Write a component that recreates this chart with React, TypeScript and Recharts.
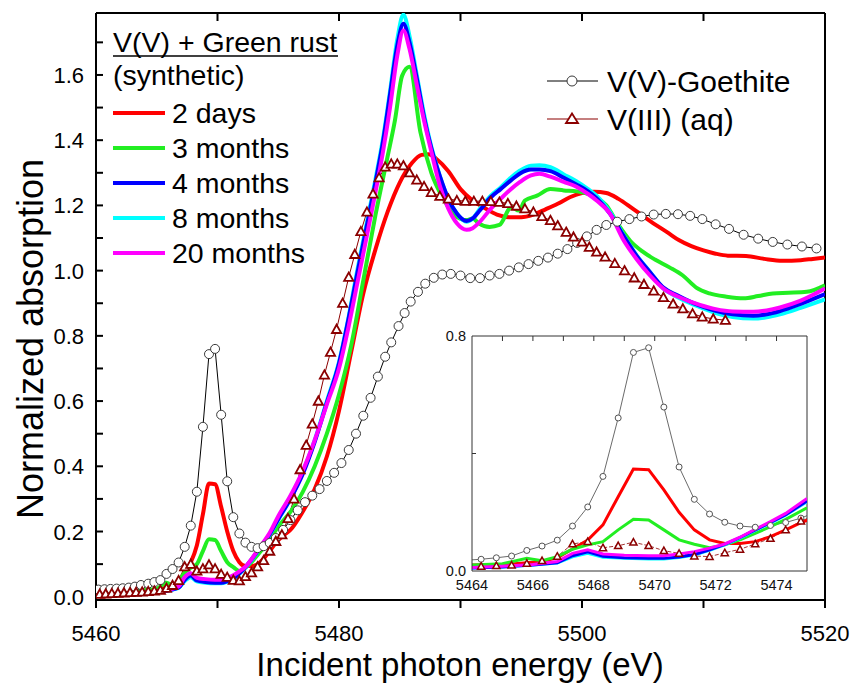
import React from 'react';
import { LineChart, Line, XAxis, YAxis, ReferenceLine } from 'recharts';

const FONT = '"Liberation Sans", Arial, Helvetica, sans-serif';

// ---------- data ----------
const goethiteE = [5460.2, 5460.7, 5461.2, 5461.7, 5462.2, 5462.7, 5463.2, 5463.7, 5464.3, 5464.8, 5465.3, 5465.8, 5466.3, 5466.8, 5467.3, 5467.8, 5468.3, 5468.8, 5469.3, 5469.8, 5470.3, 5470.8, 5471.3, 5471.8, 5472.3, 5472.8, 5473.3, 5473.8, 5474.3, 5474.8, 5475.4, 5476.0, 5476.6, 5477.2, 5477.8, 5478.4, 5479.0, 5479.6, 5480.2, 5480.8, 5481.4, 5482.0, 5482.6, 5483.2, 5483.8, 5484.3, 5484.9, 5485.4, 5485.9, 5486.5, 5487.1, 5487.8, 5488.5, 5489.2, 5490.0, 5490.8, 5491.6, 5492.4, 5493.2, 5494.0, 5494.8, 5495.6, 5496.4, 5497.2, 5498.0, 5498.8, 5499.6, 5500.4, 5501.2, 5502.0, 5502.9, 5503.9, 5504.9, 5505.9, 5506.9, 5507.9, 5508.9, 5509.9, 5511.0, 5512.1, 5513.3, 5514.5, 5515.7, 5516.9, 5518.1, 5519.3];
const goethiteMu = [0.022, 0.023, 0.024, 0.025, 0.026, 0.028, 0.031, 0.036, 0.040, 0.045, 0.051, 0.070, 0.085, 0.105, 0.153, 0.218, 0.322, 0.521, 0.744, 0.760, 0.558, 0.354, 0.244, 0.194, 0.166, 0.153, 0.149, 0.155, 0.165, 0.180, 0.205, 0.235, 0.265, 0.29, 0.31, 0.33, 0.355, 0.38, 0.41, 0.45, 0.50, 0.555, 0.61, 0.675, 0.736, 0.78, 0.83, 0.87, 0.905, 0.935, 0.96, 0.978, 0.988, 0.99, 0.985, 0.977, 0.977, 0.985, 0.99, 1.0, 1.01, 1.02, 1.03, 1.04, 1.052, 1.066, 1.085, 1.105, 1.125, 1.14, 1.15, 1.158, 1.166, 1.172, 1.174, 1.173, 1.168, 1.158, 1.142, 1.128, 1.11, 1.098, 1.088, 1.08, 1.074, 1.068];

const v3E = [5460.3, 5460.8, 5461.3, 5461.8, 5462.3, 5462.8, 5463.3, 5463.8, 5464.3, 5464.8, 5465.3, 5465.8, 5466.3, 5466.8, 5467.3, 5467.8, 5468.3, 5468.8, 5469.3, 5469.8, 5470.3, 5470.8, 5471.3, 5471.8, 5472.3, 5472.8, 5473.3, 5473.8, 5474.3, 5474.8, 5475.3, 5475.8, 5476.3, 5476.8, 5477.3, 5477.8, 5478.3, 5478.8, 5479.3, 5479.8, 5480.3, 5480.8, 5481.3, 5481.8, 5482.3, 5482.8, 5483.3, 5483.8, 5484.3, 5484.8, 5485.3, 5485.8, 5486.4, 5487.0, 5487.6, 5488.3, 5489.0, 5489.7, 5490.4, 5491.1, 5491.8, 5492.5, 5493.2, 5493.9, 5494.6, 5495.3, 5496.0, 5496.7, 5497.4, 5498.0, 5498.7, 5499.3, 5500.0, 5500.6, 5501.2, 5501.9, 5502.7, 5503.5, 5504.3, 5505.1, 5505.9, 5506.7, 5507.5, 5508.3, 5509.1, 5509.9, 5510.8, 5511.8];
const v3Mu = [0.008, 0.009, 0.010, 0.011, 0.012, 0.013, 0.014, 0.015, 0.016, 0.018, 0.020, 0.026, 0.035, 0.050, 0.092, 0.100, 0.079, 0.086, 0.098, 0.086, 0.069, 0.060, 0.051, 0.049, 0.062, 0.074, 0.092, 0.111, 0.140, 0.170, 0.19, 0.24, 0.30, 0.39, 0.465, 0.53, 0.60, 0.68, 0.75, 0.82, 0.90, 0.98, 1.05, 1.12, 1.18, 1.235, 1.285, 1.318, 1.327, 1.327, 1.322, 1.30, 1.278, 1.258, 1.24, 1.228, 1.22, 1.215, 1.213, 1.213, 1.213, 1.212, 1.21, 1.206, 1.198, 1.19, 1.18, 1.166, 1.154, 1.138, 1.118, 1.103, 1.088, 1.072, 1.057, 1.042, 1.022, 1.0, 0.978, 0.958, 0.938, 0.918, 0.898, 0.883, 0.868, 0.858, 0.852, 0.848];

const days2E = [5460, 5461, 5462, 5463, 5464, 5465, 5465.8, 5466.3, 5466.8, 5467.3, 5467.8, 5468.3, 5468.8, 5469.3, 5469.8, 5470.3, 5470.8, 5471.3, 5471.8, 5472.3, 5472.8, 5473.3, 5473.8, 5474.3, 5474.8, 5475.5, 5476, 5477, 5478, 5479, 5480, 5481, 5482, 5483, 5484, 5485, 5486, 5486.8, 5487.4, 5488, 5489, 5490, 5491, 5492, 5493, 5494, 5495, 5496, 5497, 5498, 5499, 5500, 5501, 5502, 5503, 5504, 5505, 5506, 5507, 5508, 5509, 5510, 5511, 5512, 5513.5, 5515, 5516.5, 5518, 5519, 5520];
const days2Mu = [0.010, 0.011, 0.012, 0.014, 0.020, 0.022, 0.028, 0.032, 0.045, 0.075, 0.105, 0.157, 0.253, 0.347, 0.345, 0.276, 0.200, 0.140, 0.106, 0.094, 0.094, 0.100, 0.117, 0.140, 0.165, 0.19, 0.205, 0.26, 0.33, 0.43, 0.57, 0.75, 0.93, 1.065, 1.18, 1.27, 1.33, 1.355, 1.357, 1.343, 1.305, 1.25, 1.215, 1.192, 1.172, 1.164, 1.164, 1.172, 1.188, 1.205, 1.225, 1.238, 1.242, 1.238, 1.22, 1.195, 1.168, 1.142, 1.118, 1.093, 1.075, 1.062, 1.052, 1.046, 1.045, 1.036, 1.03, 1.032, 1.036, 1.04];

const months3E = [5460, 5461, 5462, 5463, 5464, 5465, 5465.8, 5466.3, 5466.8, 5467.3, 5467.8, 5468.3, 5468.8, 5469.3, 5469.8, 5470.3, 5470.8, 5471.3, 5471.8, 5472.3, 5472.8, 5473.3, 5473.8, 5474.3, 5475, 5476, 5477, 5478, 5479, 5480, 5481, 5482, 5483, 5484, 5484.6, 5485.2, 5485.8, 5486.7, 5487.6, 5488.6, 5489.5, 5490.5, 5491.0, 5491.5, 5492.4, 5493.2, 5494.2, 5494.8, 5495.3, 5496.3, 5497.4, 5498.5, 5499.6, 5500.7, 5502.0, 5503.0, 5504.0, 5505.0, 5506.0, 5507.2, 5508.3, 5509.4, 5510.5, 5511.9, 5513.3, 5514.5, 5515.7, 5517, 5518.5, 5520];
const months3Mu = [0.012, 0.013, 0.014, 0.016, 0.020, 0.025, 0.043, 0.035, 0.049, 0.074, 0.089, 0.100, 0.140, 0.176, 0.174, 0.140, 0.106, 0.091, 0.079, 0.089, 0.106, 0.128, 0.151, 0.176, 0.215, 0.26, 0.32, 0.40, 0.50, 0.62, 0.77, 0.97, 1.17, 1.35, 1.46, 1.598, 1.625, 1.425, 1.30, 1.22, 1.17, 1.155, 1.16, 1.145, 1.134, 1.14, 1.195, 1.184, 1.215, 1.23, 1.25, 1.246, 1.243, 1.232, 1.20, 1.14, 1.09, 1.058, 1.034, 1.01, 0.985, 0.948, 0.93, 0.92, 0.915, 0.922, 0.93, 0.932, 0.935, 0.955];

const lateE = [5460, 5461, 5462, 5463, 5464, 5465, 5466, 5466.8, 5467.3, 5467.8, 5468.3, 5469, 5469.8, 5470.3, 5470.8, 5471.3, 5471.8, 5472.3, 5472.8, 5473.3, 5473.8, 5474.3, 5475, 5476, 5477, 5478, 5479, 5480, 5480.8, 5481.5, 5482.2, 5483, 5483.6, 5484.2, 5484.8, 5485.3, 5485.8, 5486.4, 5487, 5487.6, 5488.3, 5489, 5489.7, 5490.5, 5491, 5491.6, 5492.5, 5493.3, 5494, 5494.9, 5495.8, 5496.5, 5497.4, 5498.5, 5499.5, 5500.5, 5501.2, 5502.3, 5503.4, 5504.5, 5505.6, 5506.7, 5507.8, 5508.9, 5509.7, 5511, 5512.4, 5514.1, 5515.2, 5516.3, 5518, 5520];
const months4Mu = [0.003, 0.004, 0.005, 0.007, 0.010, 0.014, 0.020, 0.028, 0.052, 0.065, 0.050, 0.045, 0.043, 0.043, 0.048, 0.056, 0.072, 0.091, 0.114, 0.140, 0.165, 0.192, 0.238, 0.30, 0.375, 0.475, 0.595, 0.715, 0.855, 0.99, 1.12, 1.27, 1.39, 1.54, 1.69, 1.757, 1.70, 1.59, 1.47, 1.375, 1.29, 1.22, 1.175, 1.152, 1.16, 1.185, 1.225, 1.25, 1.272, 1.298, 1.31, 1.31, 1.305, 1.285, 1.265, 1.243, 1.222, 1.175, 1.108, 1.045, 0.995, 0.948, 0.925, 0.905, 0.893, 0.877, 0.866, 0.862, 0.866, 0.876, 0.898, 0.928];
const months8Mu = [0.003, 0.004, 0.005, 0.007, 0.010, 0.014, 0.020, 0.027, 0.048, 0.060, 0.047, 0.043, 0.041, 0.041, 0.046, 0.054, 0.070, 0.089, 0.112, 0.138, 0.163, 0.19, 0.236, 0.30, 0.38, 0.48, 0.60, 0.72, 0.86, 1.0, 1.13, 1.28, 1.40, 1.55, 1.71, 1.785, 1.72, 1.60, 1.48, 1.38, 1.29, 1.22, 1.175, 1.15, 1.16, 1.19, 1.23, 1.255, 1.28, 1.307, 1.322, 1.323, 1.317, 1.295, 1.275, 1.25, 1.23, 1.18, 1.11, 1.047, 0.996, 0.945, 0.92, 0.90, 0.888, 0.87, 0.858, 0.853, 0.857, 0.866, 0.886, 0.912];
const months20Mu = [0.005, 0.006, 0.007, 0.009, 0.012, 0.016, 0.022, 0.032, 0.060, 0.072, 0.058, 0.054, 0.052, 0.052, 0.058, 0.066, 0.078, 0.092, 0.115, 0.142, 0.168, 0.196, 0.247, 0.31, 0.385, 0.48, 0.59, 0.70, 0.83, 0.96, 1.09, 1.24, 1.36, 1.50, 1.66, 1.736, 1.68, 1.57, 1.46, 1.365, 1.26, 1.19, 1.145, 1.125, 1.13, 1.15, 1.19, 1.22, 1.245, 1.272, 1.292, 1.297, 1.288, 1.272, 1.258, 1.235, 1.215, 1.175, 1.095, 1.035, 0.985, 0.945, 0.922, 0.905, 0.895, 0.882, 0.875, 0.874, 0.878, 0.887, 0.908, 0.945];

const mainXTicks = [5460, 5470, 5480, 5490, 5500, 5510, 5520];
const mainYTicks = [0, 0.1, 0.2, 0.3, 0.4, 0.5, 0.6, 0.7, 0.8, 0.9, 1.0, 1.1, 1.2, 1.3, 1.4, 1.5, 1.6, 1.7];
const insetXTicks = [5464, 5465, 5466, 5467, 5468, 5469, 5470, 5471, 5472, 5473, 5474, 5475];
const insetYTicks = [0, 0.4, 0.8];

const MAIN_X: [number, number] = [5460, 5520];
const MAIN_Y: [number, number] = [-0.01, 1.79];
const INSET_X: [number, number] = [5464, 5475];
const INSET_Y: [number, number] = [0, 0.8];

const MAIN_TOP = 13;
const INSET_TOP = 10;

const pts = (xs: number[], ys: number[]) => xs.map((x, i) => ({ x, y: ys[i] }));
const clipIn = (p: { x: number; y: number }[]) => p.filter((d) => d.x >= 5463.5 && d.x <= 5475.6);

const goethite = pts(goethiteE, goethiteMu);
const v3 = pts(v3E, v3Mu);
const series = [
  { name: '2 days', color: '#ff0000', data: pts(days2E, days2Mu) },
  { name: '3 months', color: '#22ee22', data: pts(months3E, months3Mu) },
  { name: '8 months', color: '#00ffff', data: pts(lateE, months8Mu) },
  { name: '4 months', color: '#0000ff', data: pts(lateE, months4Mu) },
  { name: '20 months', color: '#ff00ff', data: pts(lateE, months20Mu) },
];
const legendRows = [
  { name: '2 days', color: '#ff0000' },
  { name: '3 months', color: '#22ee22' },
  { name: '4 months', color: '#0000ff' },
  { name: '8 months', color: '#00ffff' },
  { name: '20 months', color: '#ff00ff' },
];

const DARKRED = '#8b0000';

const makeCircle = (r: number, stroke: string) => (props: any) => {
  const { cx, cy, index } = props;
  if (cx == null || cy == null) return <g key={`c${index}`} />;
  return <circle key={`c${index}`} cx={cx} cy={cy} r={r} fill="#fff" stroke={stroke} strokeWidth={1} />;
};
const makeTri = (s: number, sw: number) => (props: any) => {
  const { cx, cy, index } = props;
  if (cx == null || cy == null) return <g key={`t${index}`} />;
  const d = `M${cx},${cy - s} L${cx + s},${cy + s * 0.8} L${cx - s},${cy + s * 0.8} Z`;
  return <path key={`t${index}`} d={d} fill="#fff" stroke={DARKRED} strokeWidth={sw} strokeLinejoin="miter" />;
};

// bottom labels (every 20) + inward tick marks on the top frame
const MainXTick = (props: any) => {
  const { x, y, payload } = props;
  const v = Math.round(payload.value);
  const inner = v > MAIN_X[0] && v < MAIN_X[1];
  return (
    <g>
      {inner && <line x1={x} x2={x} y1={MAIN_TOP} y2={MAIN_TOP + 8} stroke="#000" strokeWidth={2} />}
      {v % 20 === 0 && (
        <text x={x} y={y + 31} textAnchor="middle" fontSize={22} fontFamily={FONT} fill="#000">
          {v}
        </text>
      )}
    </g>
  );
};
// labels every 0.2 + inward tick marks every 0.1
const MainYTick = (props: any) => {
  const { x, y, payload } = props;
  const k = Math.round(payload.value * 10);
  const axisX = x + 12;
  return (
    <g>
      {k > 0 && <line x1={axisX} x2={axisX + 7} y1={y} y2={y} stroke="#000" strokeWidth={2} />}
      {k % 2 === 0 && k <= 16 && (
        <text x={x} y={y + 8} textAnchor="end" fontSize={22} fontFamily={FONT} fill="#000">
          {(k / 10).toFixed(1)}
        </text>
      )}
    </g>
  );
};
const InsetXTick = (props: any) => {
  const { x, y, payload } = props;
  const v = Math.round(payload.value);
  const inner = v > INSET_X[0] && v < INSET_X[1];
  return (
    <g>
      {inner && <line x1={x} x2={x} y1={INSET_TOP} y2={INSET_TOP + 5} stroke="#333" strokeWidth={1} />}
      {v % 2 === 0 && v <= 5474 && (
        <text x={x} y={y + 17} textAnchor="middle" fontSize={14.5} fontFamily={FONT} fill="#111">
          {v}
        </text>
      )}
    </g>
  );
};
const InsetYTick = (props: any) => {
  const { x, y, payload } = props;
  const k = Math.round(payload.value * 10);
  const axisX = x + 6;
  return (
    <g>
      {k === 4 && <line x1={axisX} x2={axisX + 4} y1={y} y2={y} stroke="#333" strokeWidth={1} />}
      {k !== 4 && (
        <text x={x} y={y + 5} textAnchor="end" fontSize={14.5} fontFamily={FONT} fill="#111">
          {(k / 10).toFixed(1)}
        </text>
      )}
    </g>
  );
};

const AX = { stroke: '#000', strokeWidth: 2 };
const IAX = { stroke: '#333', strokeWidth: 1 };

function MainChart() {
  return (
    <LineChart width={854} height={686} margin={{ top: MAIN_TOP, right: 29, bottom: 0, left: 0 }}>
      <XAxis xAxisId="main" type="number" dataKey="x" domain={MAIN_X} ticks={mainXTicks} interval={0}
        allowDataOverflow height={86} tickSize={8} tickMargin={2} axisLine={AX} tickLine={AX} tick={<MainXTick />} />
      <YAxis yAxisId="main" type="number" domain={MAIN_Y} ticks={mainYTicks} interval={0} allowDataOverflow
        width={96} tickSize={0} tickMargin={12} axisLine={AX} tickLine={false} tick={<MainYTick />} />
      <ReferenceLine xAxisId="main" yAxisId="main" y={MAIN_Y[1]} stroke="#000" strokeWidth={2} />
      <ReferenceLine xAxisId="main" yAxisId="main" x={MAIN_X[1]} stroke="#000" strokeWidth={2} />
      <Line xAxisId="main" yAxisId="main" data={goethite} dataKey="y" type="linear" stroke="#000" strokeWidth={1}
        dot={makeCircle(4.5, '#3a3a3a')} activeDot={false} isAnimationActive={false} />
      <Line xAxisId="main" yAxisId="main" data={v3} dataKey="y" type="linear" stroke={DARKRED} strokeWidth={1}
        dot={makeTri(4.6, 1.8)} activeDot={false} isAnimationActive={false} />
      {series.map((s) => (
        <Line key={s.name} xAxisId="main" yAxisId="main" data={s.data} dataKey="y" type="monotone" stroke={s.color}
          strokeWidth={4} dot={false} activeDot={false} isAnimationActive={false} />
      ))}
    </LineChart>
  );
}

function InsetChart() {
  return (
    <LineChart width={390} height={275} margin={{ top: INSET_TOP, right: 13, bottom: 0, left: 0 }}>
      <XAxis xAxisId="main" type="number" dataKey="x" domain={INSET_X} ticks={insetXTicks} interval={0}
        allowDataOverflow height={30} tickSize={0} tickMargin={2} axisLine={IAX} tickLine={false} tick={<InsetXTick />} />
      <YAxis yAxisId="main" type="number" domain={INSET_Y} ticks={insetYTicks} interval={0} allowDataOverflow
        width={42} tickSize={0} tickMargin={6} axisLine={IAX} tickLine={false} tick={<InsetYTick />} />
      <ReferenceLine xAxisId="main" yAxisId="main" y={INSET_Y[1]} stroke="#333" strokeWidth={1} />
      <ReferenceLine xAxisId="main" yAxisId="main" x={INSET_X[1]} stroke="#333" strokeWidth={1} />
      <Line xAxisId="main" yAxisId="main" data={clipIn(goethite)} dataKey="y" type="linear" stroke="#444" strokeWidth={0.8}
        dot={makeCircle(3, '#555')} activeDot={false} isAnimationActive={false} />
      <Line xAxisId="main" yAxisId="main" data={clipIn(v3)} dataKey="y" type="linear" stroke={DARKRED} strokeWidth={0.8}
        strokeDasharray="4 2" dot={makeTri(3.6, 1.5)} activeDot={false} isAnimationActive={false} />
      {series.map((s) => (
        <Line key={s.name} xAxisId="main" yAxisId="main" data={clipIn(s.data)} dataKey="y" type="linear" stroke={s.color}
          strokeWidth={3} dot={false} activeDot={false} isAnimationActive={false} />
      ))}
    </LineChart>
  );
}

function Overlay() {
  const rowY = [113, 148, 183, 218, 253];
  return (
    <svg width={854} height={686} style={{ position: 'absolute', left: 0, top: 0, pointerEvents: 'none' }}
      fontFamily={FONT}>
      <text x={113} y={52} fontSize={28.5} fill="#000">V(V) + Green rust</text>
      <line x1={113} x2={338} y1={56} y2={56} stroke="#000" strokeWidth={1.5} />
      <text x={113} y={85} fontSize={28.5} fill="#000">(synthetic)</text>
      {legendRows.map((r, i) => (
        <g key={r.name}>
          <line x1={113} x2={165} y1={rowY[i]} y2={rowY[i]} stroke={r.color} strokeWidth={4} />
          <text x={172} y={rowY[i] + 10} fontSize={28.5} fill="#000">{r.name}</text>
        </g>
      ))}
      <line x1={547} x2={598} y1={81} y2={81} stroke="#000" strokeWidth={1} />
      <circle cx={572} cy={81} r={5} fill="#fff" stroke="#3a3a3a" strokeWidth={1} />
      <text x={607} y={91.5} fontSize={30} fill="#000">V(V)-Goethite</text>
      <line x1={547} x2={598} y1={119} y2={119} stroke={DARKRED} strokeWidth={1.2} />
      <path d="M572,113.5 L578,123 L566,123 Z" fill="#fff" stroke={DARKRED} strokeWidth={1.8} />
      <text x={607} y={129.5} fontSize={30} fill="#000">V(III) (aq)</text>
      <text x={460} y={676} fontSize={33} textAnchor="middle" fill="#000">Incident photon energy (eV)</text>
      <text x={43} y={339} fontSize={36} textAnchor="middle" fill="#000" transform="rotate(-90 43 339)">
        Normalized absorption
      </text>
    </svg>
  );
}

export default function App() {
  return (
    <div style={{ position: 'absolute', left: 0, top: 0, width: 854, height: 686, background: '#fff' }}>
      <div style={{ position: 'absolute', left: 0, top: 0 }}>
        <MainChart />
      </div>
      <div style={{ position: 'absolute', left: 430, top: 326 }}>
        <InsetChart />
      </div>
      <Overlay />
    </div>
  );
}
